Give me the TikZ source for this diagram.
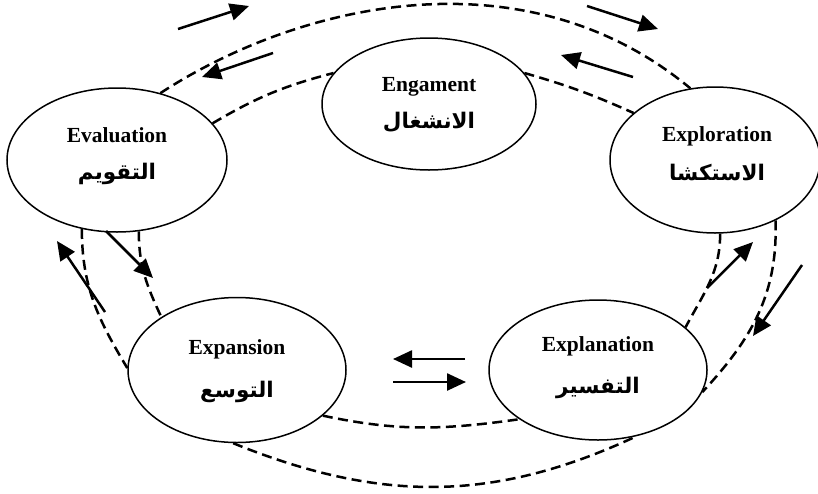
\documentclass[tikz,border=0pt]{standalone}
\usepackage{fontspec}
\setmainfont{Liberation Serif}
\newfontfamily\arabicfont[Script=Arabic]{DejaVu Sans}
\TeXXeTstate=1
\usetikzlibrary{shapes.geometric,arrows.meta}
\begin{document}
\begin{tikzpicture}[x=1pt,y=1pt,
  ell/.style={draw, ellipse, line width=1.5pt, inner sep=0pt},
  en/.style={font=\fontsize{21.5}{25}\selectfont\bfseries, anchor=base, inner sep=0pt},
  ar/.style={font=\arabicfont\bfseries\fontsize{21.5}{25}\selectfont, inner sep=0pt},
  link/.style={line width=2.5pt, dash pattern=on 10pt off 5.5pt},
  flow/.style={line width=2.5pt, -{Triangle[length=19pt,width=17pt]}},
]
\useasboundingbox (0,-493) rectangle (818,0);

% ellipses
\node[ell, minimum width=214pt, minimum height=132pt] (eng)  at (429,-104) {};
\node[ell, minimum width=220pt, minimum height=144pt] (eval) at (117,-160) {};
\node[ell, minimum width=210pt, minimum height=146pt] (expl) at (715,-160) {};
\node[ell, minimum width=218pt, minimum height=145pt] (expa) at (237,-370) {};
\node[ell, minimum width=218pt, minimum height=140pt] (expn) at (598,-370) {};

% texts
\node[en] (engT)  at (429,-91)  {Engament};
\node[ar] (engA)  at (429,-122) {\beginR الانشغال\endR};
\node[en] (evalT) at (117,-142) {Evaluation};
\node[ar] (evalA) at (117,-174) {\beginR التقويم\endR};
\node[en] (explT) at (717,-141) {Exploration};
\node[ar] (explA) at (717,-172) {\beginR الاستكشا\endR};
\node[en] (expaT) at (237,-354) {Expansion};
\node[ar] (expaA) at (237,-392) {\beginR التوسع\endR};
\node[en] (expnT) at (598,-351) {Explanation};
\node[ar] (expnA) at (598,-388) {\beginR التفسير\endR};

% dashed connectors
\draw[link] (eval.57) .. controls (302,-1) and (526,48) .. (expl.109);
\draw[link] (eval.21) to[bend left=8] (eng.162);
\draw[link] (eng.18) to[bend left=4] (expl.150);
\draw[link] (expl.-45) to[out=-88,in=47] (expn.-12);
\draw[link] (expl.-86) to[out=-90,in=62] (expn.26);
\draw[link] (expa.-93) to[out=-22,in=-155] (expn.-60);
\draw[link] (expa.-28) to[out=-12,in=-172] (expn.-148);
\draw[link] (eval.-117) to[out=-90,in=121] (expa.179);
\draw[link] (eval.-73.5) to[out=-90,in=115] (expa.145);

% arrows
\coordinate (a1s) at (178,-29); \coordinate (a1e) at (249,-6);
\coordinate (a2s) at (273,-53); \coordinate (a2e) at (202,-77);
\coordinate (a3s) at (587,-6);  \coordinate (a3e) at (658,-29);
\coordinate (a4s) at (633,-77); \coordinate (a4e) at (561,-55);
\coordinate (l1s) at (105,-312); \coordinate (l1e) at (57,-241);
\coordinate (l2s) at (106,-231); \coordinate (l2e) at (153,-278);
\coordinate (m1s) at (465,-359); \coordinate (m1e) at (393,-359);
\coordinate (m2s) at (393,-382); \coordinate (m2e) at (466,-382);
\coordinate (r1s) at (707,-288); \coordinate (r1e) at (753,-242);
\coordinate (r2s) at (802,-265); \coordinate (r2e) at (753,-336);
\draw[flow] (a1s) -- (a1e);
\draw[flow] (a2s) -- (a2e);
\draw[flow] (a3s) -- (a3e);
\draw[flow] (a4s) -- (a4e);
\draw[flow] (l1s) -- (l1e);
\draw[flow] (l2s) -- (l2e);
\draw[flow] (m1s) -- (m1e);
\draw[flow] (m2s) -- (m2e);
\draw[flow] (r1s) -- (r1e);
\draw[flow] (r2s) -- (r2e);
\end{tikzpicture}
\end{document}
